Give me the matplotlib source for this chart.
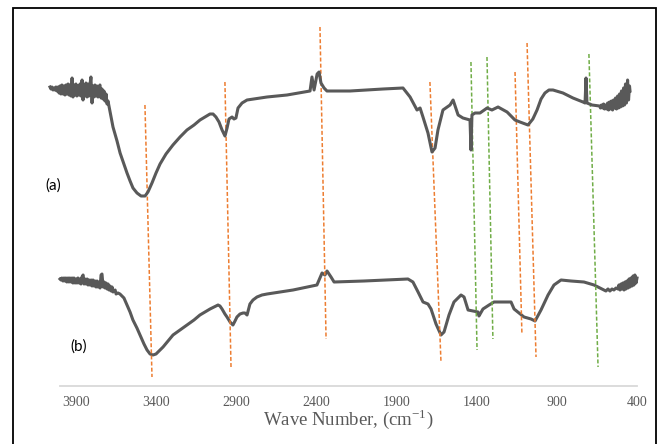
import matplotlib
matplotlib.use("Agg")
import matplotlib.pyplot as plt
from matplotlib.patches import Rectangle

plt.rcParams['mathtext.fontset'] = 'custom'
plt.rcParams['mathtext.rm'] = 'Liberation Serif'

# ---------------- data ----------------
# spectrum (a): wavenumber (cm-1) and relative transmittance (arbitrary units)
wn_a = [4000, 3994, 3988, 3981, 3975, 3969, 3963, 3957, 3950, 3944, 3938, 3932, 3926, 3919,
        3913, 3907, 3901, 3895, 3888, 3882, 3876, 3870, 3863, 3857, 3851, 3845, 3839, 3833,
        3826, 3820, 3814, 3808, 3801, 3795, 3789, 3783, 3777, 3770, 3764, 3758, 3752, 3746,
        3739, 3733, 3727, 3721, 3715, 3708, 3702, 3696, 3690, 3683, 3677, 3671, 3665, 3659,
        3652, 3646, 3640, 3609, 3584, 3565, 3541, 3522, 3503, 3485, 3460, 3435, 3410, 3392,
        3367, 3342, 3317, 3280, 3237, 3193, 3150, 3106, 3069, 3038, 3007, 2988, 2970, 2951,
        2932, 2914, 2901, 2889, 2870, 2858, 2846, 2833, 2808, 2777, 2653, 2529,
        2386, 2374, 2361, 2342, 2330, 2318, 2299, 2281, 2138, 1933, 1809, 1765, 1722, 1703,
        1685, 1654, 1629, 1610, 1592, 1561, 1517, 1498, 1467, 1437, 1393, 1387, 1381, 1362,
        1331, 1287, 1257, 1219, 1163, 1114, 1083, 1033, 1003, 977, 952, 928, 903, 878, 816,
        754, 692, 679, 673, 667, 636,
        589, 583, 577, 570, 564, 558, 552, 545, 539, 533, 527, 521, 515, 508, 502, 496, 490,
        484, 477, 471, 465, 459, 453, 446, 440, 434, 428, 422, 415, 409, 403, 400]
t_a = [299, 297, 299, 296, 298, 296, 299, 295, 299, 293, 300, 292, 301, 292,
       300, 291, 301, 292, 302, 291, 301, 290, 308, 289, 301, 291, 302, 290,
       300, 291, 302, 290, 306, 286, 301, 290, 303, 289, 302, 290, 301, 309,
       283, 300, 289, 301, 290, 300, 289, 299, 301, 288, 297, 287, 295, 285,
       292, 282, 285, 259, 245, 233, 222, 213, 205, 198, 193, 190, 190, 194,
       203, 213, 222, 232, 241, 249, 256, 261, 266, 269, 272, 272, 269, 264,
       256, 250, 258, 267, 269, 267, 268, 278, 283, 286, 289, 291,
       295, 309, 296, 312, 314, 303, 298, 295, 295, 297, 298, 289, 276, 278,
       269, 253, 234, 238, 256, 276, 281, 286, 271, 268, 266, 236, 271, 273,
       273, 278, 276, 279, 274, 266, 264, 261, 267, 276, 287, 293, 296, 296, 293,
       288, 284, 283, 308, 283, 281,
       280, 278, 281, 278, 282, 277, 281, 277, 283, 276, 284, 277, 285, 276, 286, 278, 288,
       277, 290, 278, 292, 279, 295, 280, 298, 281, 302, 283, 306, 286, 300, 295]

# spectrum (b)
wn_b = [4000, 3994, 3988, 3981, 3975, 3969, 3963, 3957, 3950, 3944, 3938, 3931, 3925, 3919,
        3913, 3906, 3900, 3894, 3888, 3881, 3875, 3869, 3863, 3856, 3850, 3844, 3838, 3831,
        3825, 3819, 3813, 3806, 3800, 3794, 3788, 3781, 3775, 3769, 3763, 3756, 3750, 3744,
        3738, 3731, 3725, 3719, 3713, 3706, 3700, 3694, 3688, 3681, 3675, 3669, 3656, 3650,
        3638, 3626, 3601, 3582, 3563, 3545, 3520, 3501, 3476, 3457, 3438, 3420, 3401, 3382,
        3357, 3326, 3295, 3251, 3208, 3164, 3127, 3095, 3064, 3039, 3014, 3002, 2989, 2971,
        2958, 2939, 2921, 2908, 2896, 2877, 2858, 2846, 2833, 2815, 2796, 2771, 2740, 2708,
        2546, 2397, 2365, 2347, 2334, 2309, 2290, 2103, 1829, 1798,
        1766, 1735, 1704, 1685, 1654, 1623, 1604, 1573, 1542, 1498, 1479, 1454, 1423, 1392,
        1386, 1361, 1323, 1292, 1186, 1167, 1136, 1105, 1061, 1036, 999, 955, 918, 874, 812,
        731, 668, 606, 594, 581, 569, 556, 544, 531, 519, 513, 506, 500, 494, 488, 481, 475,
        469, 463, 456, 450, 444, 438, 431, 425, 419, 413, 406, 400]
t_b = [107, 106, 108, 105, 108, 105, 108, 104, 108, 104, 108, 104, 108, 103,
       108, 103, 107, 103, 108, 103, 107, 102, 109, 111, 102, 107, 102, 107,
       101, 106, 101, 106, 100, 106, 100, 105, 99, 105, 99, 104, 98, 111,
       112, 99, 104, 98, 103, 97, 102, 96, 100, 95, 99, 94, 96, 92,
       93, 92, 88, 81, 74, 66, 58, 51, 42, 36, 32, 31, 32, 35,
       39, 45, 51, 56, 61, 66, 71, 74, 77, 79, 81, 80, 77, 72,
       69, 64, 61, 65, 69, 72, 73, 73, 71, 82, 86, 89, 91, 92,
       96, 101, 113, 111, 115, 109, 104, 105, 107, 104,
       94, 84, 82, 77, 62, 51, 54, 71, 84, 91, 89, 76, 75, 74,
       70, 77, 81, 84, 84, 77, 73, 69, 67, 65, 76, 91, 101, 106, 105,
       104, 101, 96, 95, 97, 95, 97, 96, 98, 97, 101, 96, 102, 97, 103, 96, 104,
       97, 105, 98, 107, 99, 108, 100, 110, 101, 111, 103, 108]

x_ticks = [3900, 3400, 2900, 2400, 1900, 1400, 900, 400]
x_tick_labels = ["3900", "3400", "2900", "2400", "1900", "1400", "900", "400"]

# band guide lines: (wn_top, t_top, wn_bottom, t_bottom)
guides_orange = [(3470, 281, 3426, 9), (2971, 304, 2933, 19), (2378, 359, 2340, 47),
                 (1692, 304, 1623, 24), (1161, 314, 1118, 52), (1086, 343, 1030, 29)]
guides_green = [(1436, 324, 1398, 36), (1336, 329, 1299, 47), (700, 332, 643, 19)]

# ---------------- figure ----------------
W, H = 662, 444
fig = plt.figure(figsize=(W / 100, H / 100), dpi=100)
fig.patch.set_facecolor("white")

ybot = (H - 386) / H
yh = 378 / H
ax_b = fig.add_axes([60 / W, ybot, 577 / W, yh])
ax_a = fig.add_axes([50 / W, ybot, 580 / W, yh])
ax_a.patch.set_alpha(0)

line_col = "#595959"
for ax in (ax_a, ax_b):
    ax.set_xlim(4000, 400)
    ax.set_ylim(0, 378)

ax_a.plot(wn_a, t_a, color=line_col, lw=2.2, solid_joinstyle="round", clip_on=False)
ax_a.axis("off")
ax_b.plot(wn_b, t_b, color=line_col, lw=2.2, solid_joinstyle="round", clip_on=False)

for col, guides in (("#ED7D31", guides_orange), ("#70AD47", guides_green)):
    for x0, y0, x1, y1 in guides:
        ax_b.plot([x0, x1], [y0, y1], color=col, lw=1.1, linestyle=(0, (2.6, 1.4)),
                  clip_on=False, zorder=3)

for s in ("top", "right", "left"):
    ax_b.spines[s].set_visible(False)
ax_b.spines["bottom"].set_color("#D9D9D9")
ax_b.spines["bottom"].set_linewidth(1.3)
ax_b.set_yticks([])
ax_b.set_xticks(x_ticks)
ax_b.set_xticklabels(x_tick_labels, family="Liberation Serif", fontsize=10, color="#595959")
ax_b.tick_params(axis="x", length=0, pad=7)
ax_b.set_xlabel(r"Wave Number, (cm$^{\mathregular{-1}}$)", family="Liberation Serif",
                fontsize=13.5, color="#595959", labelpad=-1)

fig.text(45 / W, 1 - 186 / H, "(a)", family="Lato", fontsize=11, color="black",
         ha="left", va="center")
fig.text(70 / W, 1 - 347 / H, "(b)", family="Lato", fontsize=11, color="black",
         ha="left", va="center")

fig.patches.append(Rectangle((13 / W, -0.1), (656 - 13) / W, (H - 8) / H + 0.1,
                             transform=fig.transFigure, fill=False, ec="black", lw=1.3))

fig.savefig("out.png", dpi=100)
